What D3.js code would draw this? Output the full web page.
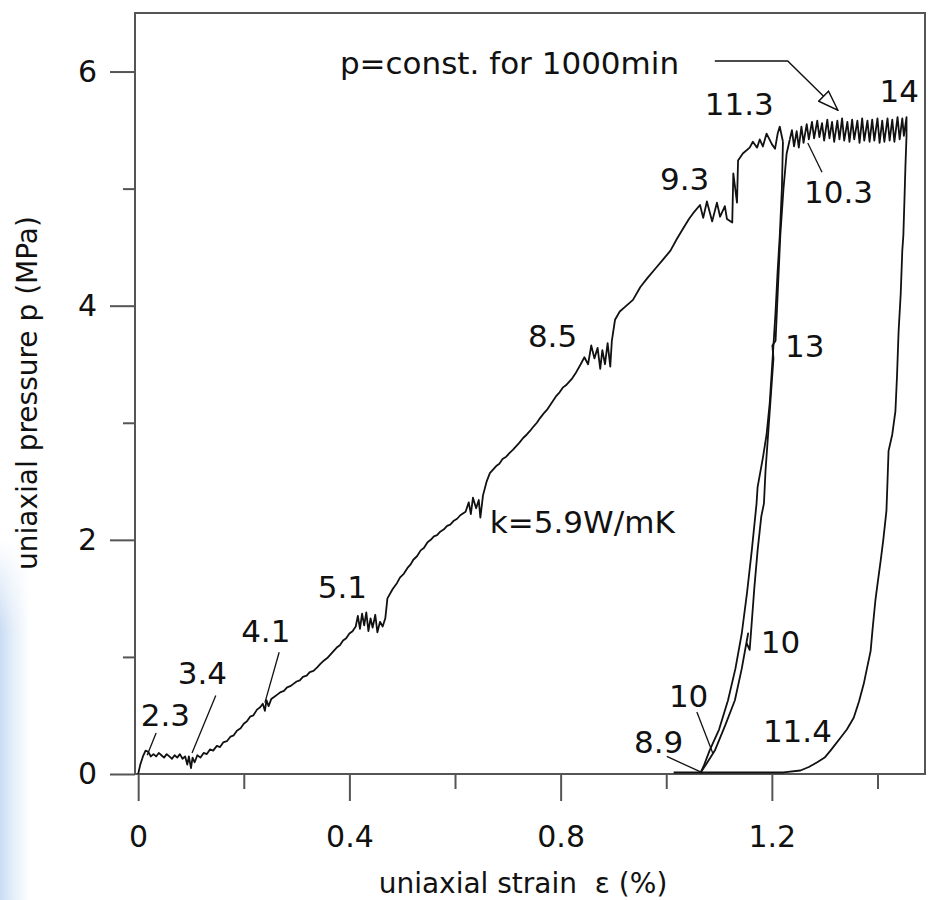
<!DOCTYPE html>
<html>
<head>
<meta charset="utf-8">
<script src="https://d3js.org/d3.v7.min.js"></script>
<style>
  body { margin: 0; background: #fff; }
  svg text { font-family: "DejaVu Sans", sans-serif; fill: #111; }
</style>
</head>
<body>
<svg id="chart" width="928" height="900"></svg>
<script>
// each leg of the test as [strain %, pressure MPa]
const loading = [
  [0,0],[0.004,0.08],[0.009,0.15],[0.014,0.2],[0.019,0.19],[0.024,0.15],[0.029,0.17],[0.034,0.15],
  [0.039,0.18],[0.044,0.16],[0.049,0.14],[0.054,0.17],[0.059,0.15],[0.064,0.13],[0.069,0.16],
  [0.074,0.14],[0.079,0.17],[0.084,0.13],[0.089,0.15],[0.093,0.08],[0.096,0.15],[0.1,0.05],
  [0.103,0.14],[0.107,0.1],[0.112,0.16],[0.118,0.14],[0.124,0.18],[0.13,0.17],[0.136,0.21],
  [0.142,0.2],[0.149,0.24],[0.155,0.23],[0.161,0.27],[0.168,0.28],[0.175,0.32],[0.181,0.33],
  [0.187,0.37],[0.194,0.39],[0.2,0.43],[0.206,0.45],[0.212,0.49],[0.218,0.5],[0.225,0.55],
  [0.231,0.57],[0.236,0.6],[0.24,0.54],[0.243,0.63],[0.247,0.58],[0.252,0.64],[0.258,0.66],
  [0.264,0.68],[0.27,0.7],[0.276,0.71],[0.282,0.74],[0.288,0.75],[0.294,0.77],[0.3,0.79],
  [0.306,0.8],[0.312,0.83],[0.319,0.84],[0.325,0.87],[0.332,0.88],[0.339,0.91],[0.345,0.94],
  [0.352,0.97],[0.358,0.99],[0.364,1.02],[0.37,1.05],[0.376,1.08],[0.382,1.1],[0.388,1.14],
  [0.394,1.16],[0.4,1.2],[0.406,1.22],[0.412,1.26],[0.416,1.35],[0.42,1.24],[0.424,1.37],
  [0.428,1.27],[0.432,1.38],[0.436,1.22],[0.44,1.33],[0.444,1.25],[0.449,1.36],[0.453,1.21],
  [0.458,1.3],[0.463,1.26],[0.468,1.33],[0.472,1.5],[0.482,1.58],[0.49,1.63],[0.496,1.68],
  [0.503,1.71],[0.51,1.76],[0.516,1.79],[0.521,1.83],[0.528,1.86],[0.535,1.91],[0.541,1.93],
  [0.548,1.98],[0.554,2.0],[0.56,2.03],[0.566,2.04],[0.572,2.07],[0.579,2.09],[0.585,2.12],
  [0.591,2.13],[0.597,2.16],[0.604,2.18],[0.61,2.21],[0.62,2.24],[0.626,2.32],[0.63,2.22],
  [0.634,2.36],[0.64,2.27],[0.645,2.34],[0.648,2.19],[0.653,2.38],[0.66,2.5],[0.666,2.57],
  [0.672,2.6],[0.678,2.63],[0.684,2.65],[0.69,2.69],[0.697,2.71],[0.703,2.74],[0.71,2.77],
  [0.716,2.8],[0.722,2.83],[0.729,2.87],[0.736,2.9],[0.742,2.93],[0.749,2.97],[0.755,3.0],
  [0.761,3.04],[0.768,3.08],[0.774,3.11],[0.78,3.15],[0.786,3.19],[0.792,3.23],[0.798,3.26],
  [0.804,3.3],[0.81,3.32],[0.816,3.35],[0.822,3.38],[0.828,3.42],[0.838,3.5],[0.845,3.56],
  [0.852,3.5],[0.858,3.66],[0.864,3.55],[0.87,3.64],[0.875,3.46],[0.879,3.62],[0.884,3.5],
  [0.889,3.68],[0.894,3.48],[0.897,3.7],[0.903,3.88],[0.912,3.95],[0.922,3.99],[0.937,4.05],
  [0.951,4.16],[0.965,4.24],[0.98,4.32],[0.995,4.4],[1.008,4.47],[1.02,4.57],[1.032,4.66],
  [1.043,4.74],[1.051,4.79],[1.064,4.86],[1.07,4.75],[1.077,4.89],[1.087,4.72],[1.096,4.88],
  [1.102,4.76],[1.111,4.85],[1.115,4.74],[1.125,4.71],[1.127,5.13],[1.134,4.88],[1.136,5.24],
  [1.145,5.3],[1.158,5.35],[1.164,5.4],[1.172,5.35],[1.177,5.42],[1.183,5.36],[1.19,5.47],
  [1.2,5.38],[1.206,5.34],[1.211,5.47],[1.215,5.53],[1.221,5.4]
];
const unloading1 = [
  [1.221,5.4],[1.219,5.0],[1.215,4.6],[1.211,4.3],[1.207,3.95],[1.204,3.73],[1.196,3.17],
  [1.19,2.9],[1.183,2.7],[1.173,2.45],[1.171,2.31],[1.162,1.91],[1.153,1.55],[1.143,1.2],
  [1.131,0.9],[1.117,0.63],[1.1,0.38],[1.082,0.2],[1.072,0.08],[1.065,0.01]
];
const reloading = [
  [1.065,0.01],[1.078,0.1],[1.092,0.2],[1.112,0.42],[1.13,0.63],[1.143,0.9],[1.155,1.2],
  [1.152,1.12],[1.158,1.06],[1.167,1.6],[1.173,1.91],[1.18,2.2],[1.185,2.31],[1.188,2.59],
  [1.196,3.1],[1.203,3.55],[1.201,3.66],[1.207,3.7],[1.212,4.2],[1.216,4.6],[1.222,5.0],
  [1.228,5.3],[1.234,5.42]
];
const creep = [
  [1.234,5.42],[1.238,5.5],[1.242,5.36],[1.247,5.49],[1.251,5.35],[1.256,5.53],[1.26,5.39],
  [1.266,5.55],[1.27,5.42],[1.276,5.57],[1.28,5.43],[1.286,5.58],[1.29,5.44],[1.295,5.56],
  [1.299,5.41],[1.305,5.59],[1.309,5.43],[1.314,5.57],[1.318,5.4],[1.324,5.58],[1.328,5.42],
  [1.333,5.6],[1.337,5.41],[1.343,5.57],[1.347,5.4],[1.352,5.59],[1.356,5.42],[1.362,5.58],
  [1.366,5.39],[1.371,5.6],[1.375,5.41],[1.381,5.58],[1.385,5.4],[1.39,5.59],[1.394,5.41],
  [1.4,5.6],[1.404,5.39],[1.409,5.58],[1.413,5.4],[1.419,5.6],[1.423,5.41],[1.428,5.59],
  [1.432,5.4],[1.438,5.61],[1.442,5.42],[1.447,5.6],[1.45,5.45],[1.455,5.61],[1.455,5.45]
];
const unloading2 = [
  [1.455,5.45],[1.453,5.2],[1.451,4.89],[1.449,4.6],[1.447,4.47],[1.444,4.1],[1.44,3.78],
  [1.437,3.4],[1.434,3.1],[1.428,2.9],[1.421,2.76],[1.419,2.5],[1.417,2.25],[1.411,2.0],
  [1.406,1.82],[1.4,1.62],[1.396,1.48],[1.391,1.25],[1.387,1.05],[1.38,0.9],[1.374,0.77],
  [1.365,0.62],[1.355,0.48],[1.342,0.38],[1.33,0.31],[1.318,0.24],[1.311,0.2],[1.3,0.14],
  [1.286,0.1],[1.27,0.06],[1.254,0.03],[1.222,0.013],[1.014,0.013]
];

const xMajorTicks = [0, 0.4, 0.8, 1.2];
const xMinorTicks = [0.2, 0.6, 1.0, 1.4];
const yMajorTicks = [0, 2, 4, 6];
const yMinorTicks = [1, 3, 5];

// labels: text, baseline start point, optional leader line (all in data units)
const notes = [
  { text: '2.3', at: [0.005, 0.41], lead: [[0.034, 0.35], [0.017, 0.16]] },
  { text: '3.4', at: [0.075, 0.77], lead: [[0.147, 0.67], [0.102, 0.18]] },
  { text: '4.1', at: [0.195, 1.13], lead: [[0.267, 1.04], [0.24, 0.61]] },
  { text: '5.1', at: [0.34, 1.5] },
  { text: 'k=5.9W/mK', at: [0.666, 2.06] },
  { text: '8.5', at: [0.738, 3.65] },
  { text: '9.3', at: [0.988, 4.99] },
  { text: '11.3', at: [1.073, 5.63] },
  { text: '10.3', at: [1.261, 4.88], lead: [[1.295, 5.14], [1.268, 5.39]] },
  { text: '14', at: [1.404, 5.74] },
  { text: '13', at: [1.225, 3.56] },
  { text: '10', at: [1.179, 1.03] },
  { text: '10', at: [1.005, 0.57], lead: [[1.058, 0.53], [1.088, 0.18]] },
  { text: '8.9', at: [0.939, 0.18], lead: [[1.001, 0.15], [1.064, 0.02]] },
  { text: '11.4', at: [1.183, 0.27] },
  { text: 'p=const. for 1000min', at: [0.382, 5.98] }
];
const creepArrow = [[1.092, 6.09], [1.23, 6.09], [1.325, 5.67]];

const svg = d3.select('#chart');

const x = d3.scaleLinear().domain([-0.006, 1.49]).range([135, 925]);
const y = d3.scaleLinear().domain([0, 6.5]).range([774, 13]);

// faint blue smear at the left edge of the scan
const defs = svg.append('defs');
const grad = defs.append('linearGradient').attr('id', 'edge');
grad.append('stop').attr('offset', '0%').attr('stop-color', '#c9dcf3');
grad.append('stop').attr('offset', '40%').attr('stop-color', '#e3edf9');
grad.append('stop').attr('offset', '100%').attr('stop-color', '#ffffff');
const fade = defs.append('linearGradient').attr('id', 'fade')
  .attr('x1', 0).attr('x2', 0).attr('y1', 0).attr('y2', 1);
fade.append('stop').attr('offset', '0%').attr('stop-color', '#fff').attr('stop-opacity', 1);
fade.append('stop').attr('offset', '100%').attr('stop-color', '#fff').attr('stop-opacity', 0);
svg.append('rect').attr('x', 0).attr('y', 540).attr('width', 30).attr('height', 360).attr('fill', 'url(#edge)');
svg.append('rect').attr('x', 0).attr('y', 540).attr('width', 30).attr('height', 90).attr('fill', 'url(#fade)');

const marker = defs.append('marker')
  .attr('id', 'head')
  .attr('viewBox', '0 0 22 16')
  .attr('refX', 21).attr('refY', 8)
  .attr('markerWidth', 22).attr('markerHeight', 16)
  .attr('markerUnits', 'userSpaceOnUse')
  .attr('orient', 'auto');
marker.append('path')
  .attr('d', 'M1,1 L21,8 L1,15 Z')
  .attr('fill', '#fff').attr('stroke', '#111').attr('stroke-width', 1.4);

// frame
svg.append('rect')
  .attr('x', x.range()[0]).attr('y', y.range()[1])
  .attr('width', x.range()[1] - x.range()[0])
  .attr('height', y.range()[0] - y.range()[1])
  .attr('fill', 'none').attr('stroke', '#555').attr('stroke-width', 2);

function styleAxis(g) {
  g.select('.domain').remove();
  g.selectAll('.tick line').attr('stroke', '#555').attr('stroke-width', 2);
  g.selectAll('.tick text').attr('font-size', 30).attr('font-family', null).attr('fill', '#111');
}

svg.append('g').attr('transform', `translate(${x.range()[0]},0)`)
  .call(d3.axisLeft(y).tickValues(yMajorTicks).tickSize(25).tickPadding(13).tickFormat(d3.format('d')))
  .call(styleAxis);
svg.append('g').attr('transform', `translate(${x.range()[0]},0)`)
  .call(d3.axisLeft(y).tickValues(yMinorTicks).tickSize(12).tickFormat(''))
  .call(styleAxis);
svg.append('g').attr('transform', `translate(0,${y.range()[0]})`)
  .call(d3.axisBottom(x).tickValues(xMajorTicks).tickSize(27).tickPadding(25).tickFormat(d => d === 0 ? '0' : d3.format('.1f')(d)))
  .call(styleAxis);
svg.append('g').attr('transform', `translate(0,${y.range()[0]})`)
  .call(d3.axisBottom(x).tickValues(xMinorTicks).tickSize(15).tickFormat(''))
  .call(styleAxis);

// axis titles
svg.append('text')
  .attr('x', 523).attr('y', 893)
  .attr('text-anchor', 'middle').attr('font-size', 28)
  .text('uniaxial strain\u00a0 \u03b5 (%)');
svg.append('text')
  .attr('transform', 'translate(37,393) rotate(-90)')
  .attr('text-anchor', 'middle').attr('font-size', 28)
  .text('uniaxial pressure p (MPa)');

// curve
const line = d3.line().x(d => x(d[0])).y(d => y(d[1]));
[loading, unloading1, reloading, creep, unloading2].forEach(seg => {
  svg.append('path')
    .attr('d', line(seg))
    .attr('fill', 'none')
    .attr('stroke', '#111')
    .attr('stroke-width', 1.8)
    .attr('stroke-linejoin', 'round');
});

// annotations
notes.forEach(n => {
  svg.append('text')
    .attr('x', x(n.at[0])).attr('y', y(n.at[1]))
    .attr('font-size', 31)
    .text(n.text);
  if (n.lead) {
    svg.append('path')
      .attr('d', line(n.lead))
      .attr('stroke', '#111').attr('stroke-width', 1.3).attr('fill', 'none');
  }
});

svg.append('path')
  .attr('d', line(creepArrow))
  .attr('fill', 'none').attr('stroke', '#111').attr('stroke-width', 1.4)
  .attr('marker-end', 'url(#head)');
</script>
</body>
</html>
